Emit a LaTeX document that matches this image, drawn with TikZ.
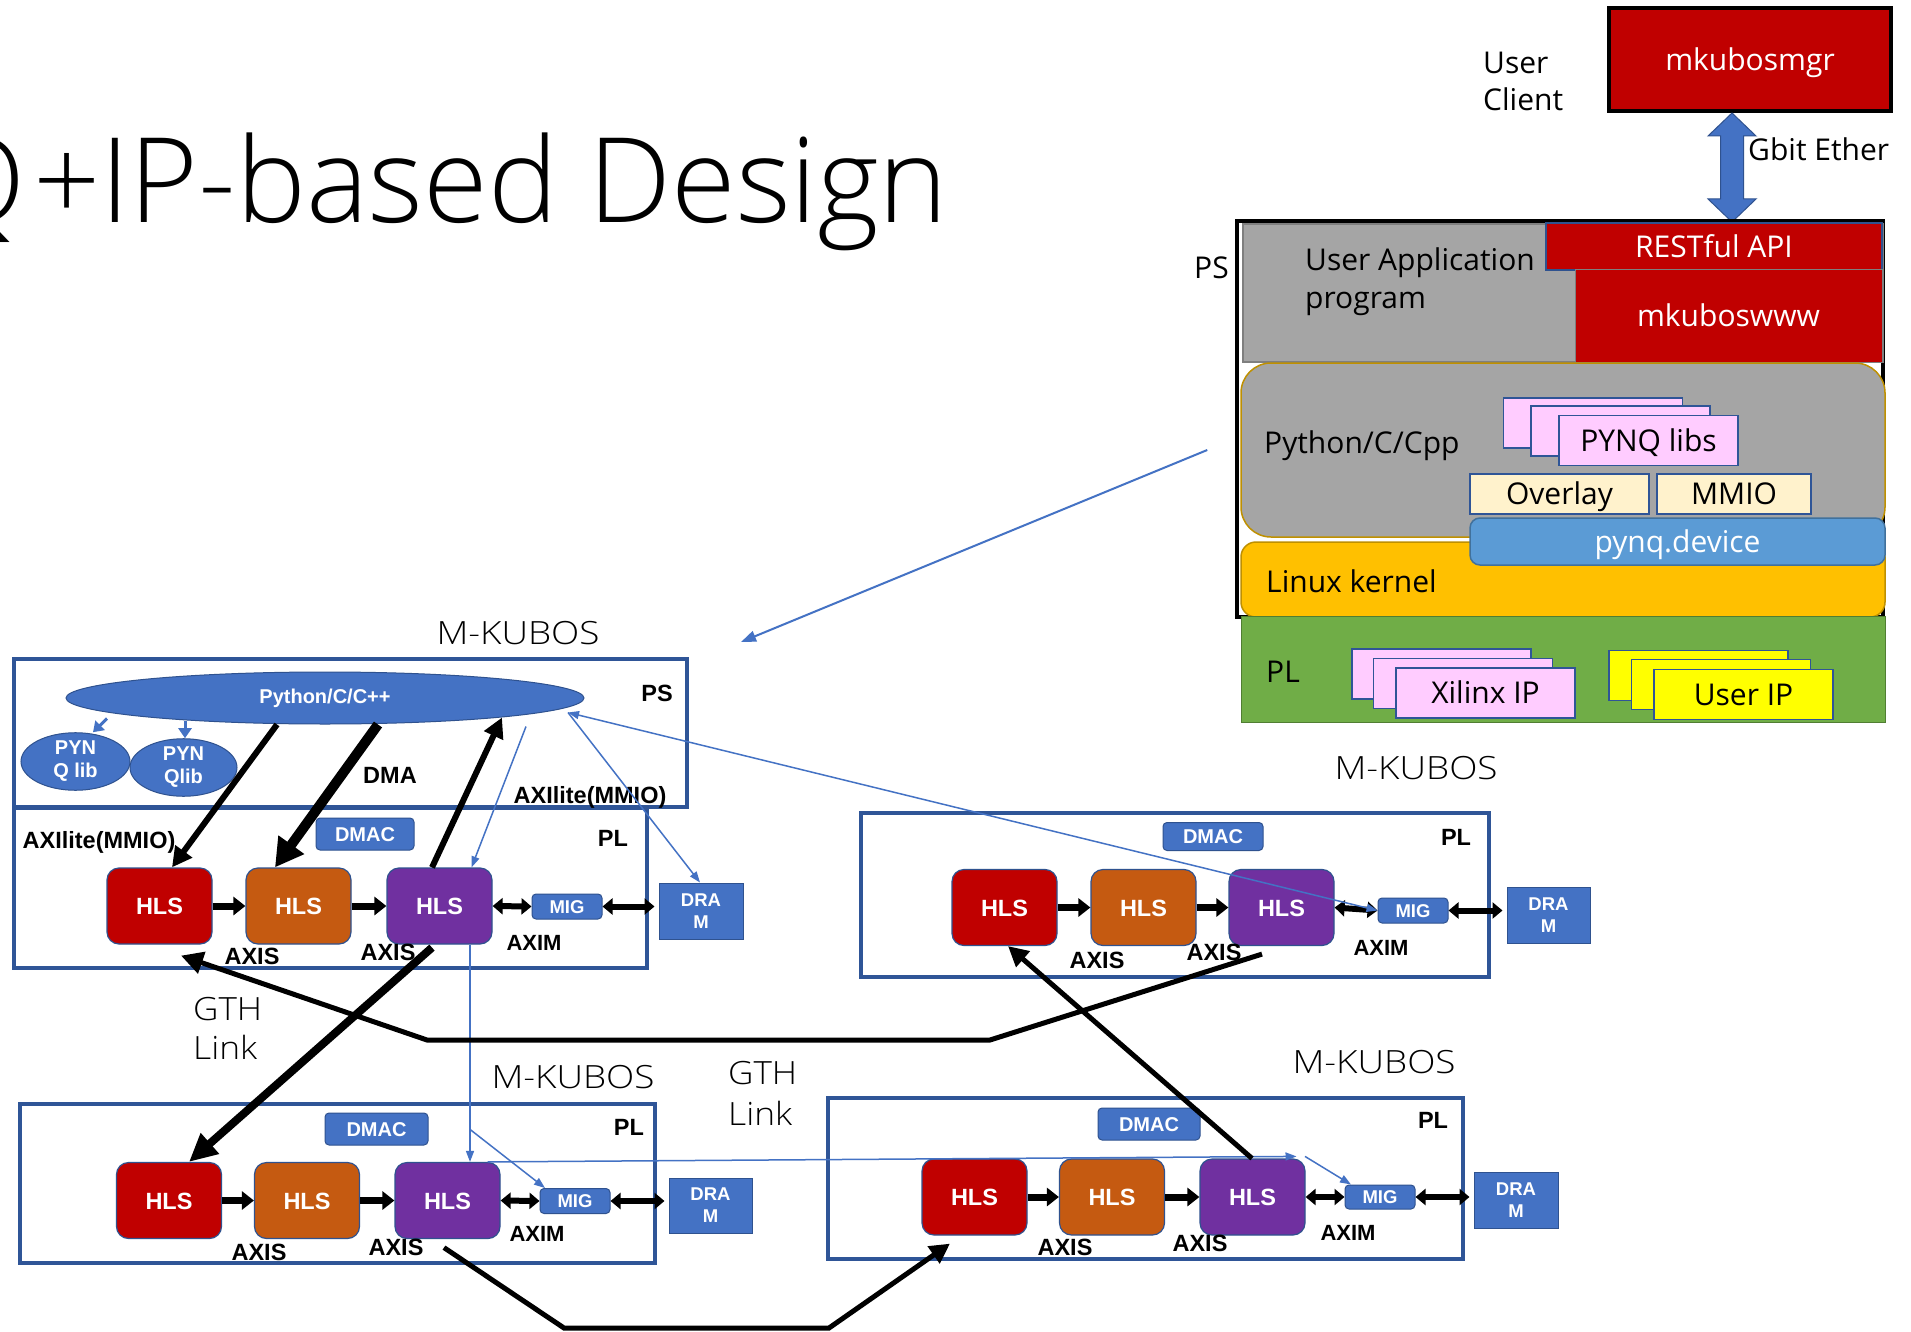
\documentclass[tikz,border=0pt]{standalone}
\usepackage{fontspec}
\usepackage{graphicx}
\setmainfont{Open Sans}
\newfontfamily\lsans{Liberation Sans}
\IfFontExistsTF{Open Sans Light}{\newfontfamily\lightfam{Open Sans Light}}{\newfontfamily\lightfam{Noto Sans CJK JP}}
\usetikzlibrary{arrows.meta,shapes.geometric,calc}

\definecolor{kblue}{HTML}{2F5597}
\definecolor{accblue}{HTML}{4472C4}
\definecolor{hlsb}{HTML}{2F528F}
\definecolor{hred}{HTML}{C00000}
\definecolor{horange}{HTML}{C55A11}
\definecolor{hpurple}{HTML}{7030A0}
\definecolor{psgray}{HTML}{A5A5A5}
\definecolor{psgrayb}{HTML}{7F7F7F}
\definecolor{gold}{HTML}{BF9000}
\definecolor{kernel}{HTML}{FFC000}
\definecolor{pdev}{HTML}{5B9BD5}
\definecolor{pdevb}{HTML}{41719C}
\definecolor{plgreen}{HTML}{70AD47}
\definecolor{plgreenb}{HTML}{507E32}
\definecolor{ipink}{HTML}{FFCCFF}
\definecolor{cream}{HTML}{FFF2CC}
\definecolor{uyellow}{HTML}{FFFF00}

\newcommand\fBold{\lsans\bfseries\fontsize{23.5}{26}\selectfont}
\newcommand\fSmall{\lsans\bfseries\fontsize{20}{23}\selectfont}
\newcommand\fTiny{\lsans\bfseries\fontsize{18.5}{22}\selectfont}
\newcommand\fBody{\fontsize{30}{37}\selectfont}
\newcommand\fJp{\lightfam\fontsize{32}{38}\selectfont}
\newcommand\fTitle{\lightfam\fontsize{118}{130}\selectfont}
\newcommand\fitw[2]{\resizebox{#1}{\height}{#2}}

\tikzset{
  lbl/.style={font=\fBold, inner sep=0pt, anchor=base},
  body/.style={font=\fBody, inner sep=0pt, anchor=base west},
  jp/.style={font=\fJp, inner sep=0pt, anchor=base},
  kframe/.style={draw=kblue, line width=4pt, inner sep=0pt},
  hls/.style={rounded corners=12pt, draw=hlsb, line width=1.2pt, minimum width=105pt,
    minimum height=76pt, inner sep=0pt, text=white, font=\fBold, text height=17pt, text depth=0pt},
  sbox/.style={fill=accblue, draw=hlsb, line width=1pt, text=white, font=\fSmall, inner sep=0pt,
    rounded corners=4pt, text height=14pt, text depth=0pt},
  migbox/.style={sbox, font=\fTiny, minimum width=70pt, minimum height=25pt, text height=13pt},
  dramnode/.style={fill=accblue, draw=hlsb, line width=1pt, text=white, font=\fTiny, inner sep=0pt,
    align=center, minimum width=83pt, minimum height=56pt},
  lay/.style={inner sep=0pt, font=\fBody, text height=21.5pt, text depth=0pt},
  stk/.style={lay, draw=kblue, line width=1.5pt, minimum width=179pt, minimum height=50pt},
  axarr/.style={line width=7pt, -{Triangle[length=12pt,width=18pt]}},
  dblarr/.style={line width=6pt, {Triangle[length=10pt,width=16pt]}-{Triangle[length=10pt,width=16pt]}},
  thinb/.style={draw=accblue, line width=1.5pt},
  thinarr/.style={thinb, -{Triangle[length=11pt,width=8pt]}},
}

\begin{document}
\begin{tikzpicture}[x=1pt,y=-1pt]
\useasboundingbox (0,0) rectangle (1911,1332);
\fill[white] (0,0) rectangle (1911,1332);

% ---------- title ----------
\node[font=\fTitle, anchor=base east, inner sep=0pt] (titleq) at (26,223) {Q};
\node[font=\fTitle, anchor=base west, inner sep=0pt] (title) at (33,223) {\fitw{915pt}{+IP-based Design}};

% ---------- top right: PYNQ stack ----------
\node[fill=hred, draw=black, line width=4pt, minimum width=282pt, minimum height=103pt,
  lay, text=white] (mgr) at (1750,59.5) {mkubosmgr};
\node[body] (uc1) at (1483,73.5) {User};
\node[body] (uc2) at (1483,110.5) {Client};
\fill[accblue, draw=hlsb, line width=1pt]
  (1732,113) -- (1756,136) -- (1743.5,136) -- (1743.5,199) -- (1756,199) -- (1732,222)
  -- (1708,199) -- (1720.5,199) -- (1720.5,136) -- (1708,136) -- cycle;
\node[body] (gbit) at (1748,160.5) {Gbit Ether};

\node[draw=black, line width=3.5pt, minimum width=646pt, minimum height=396pt, inner sep=0pt] (psfr) at (1560,419) {};
\node[body] (pslab) at (1194,278.5) {PS};
\node[fill=psgray, draw=psgrayb, line width=1.5pt, minimum width=640pt, minimum height=138pt, inner sep=0pt] (uapp) at (1563,293) {};
\node[fill=hred, draw=hlsb, line width=1.5pt, minimum width=336pt, minimum height=47pt, lay, text=white] (rest) at (1714,246.5) {RESTful API};
\node[fill=hred, draw=psgrayb, line width=1pt, minimum width=307pt, minimum height=92pt, lay, text=white] (www) at (1728.5,316) {mkuboswww};
\node[body] (uat1) at (1305,270.5) {User Application};
\node[body] (uat2) at (1305,308.5) {program};

\node[fill=psgray, draw=gold, line width=1.5pt, rounded corners=30pt, minimum width=644pt, minimum height=174pt, inner sep=0pt] (pyr) at (1563,450) {};
\node[body] (pytxt) at (1264,453.5) {Python/C/Cpp};
\node[stk, fill=ipink] (pq1s) at (1593,423) {};
\node[stk, fill=ipink] (pq2s) at (1620.5,431) {};
\node[stk, fill=ipink] (pq3s) at (1648.5,440.5) {PYNQ libs};
\node[lay, fill=cream, draw=kblue, line width=1.5pt, minimum width=179pt, minimum height=40pt] (ovl) at (1559.5,494) {Overlay};
\node[lay, fill=cream, draw=kblue, line width=1.5pt, minimum width=154pt, minimum height=40pt] (mmio) at (1734,494) {MMIO};

\node[fill=kernel, draw=gold, line width=1.5pt, rounded corners=15pt, minimum width=644pt, minimum height=75pt, inner sep=0pt] (linux) at (1563,579.5) {};
\node[body] (lktxt) at (1266,592.5) {Linux kernel};
\node[lay, fill=pdev, draw=pdevb, line width=1.5pt, rounded corners=10pt, minimum width=415pt, minimum height=47pt, text=white] (pdevn) at (1677.5,541.5) {pynq.device};

\node[fill=plgreen, draw=plgreenb, line width=1pt, minimum width=644pt, minimum height=106pt, inner sep=0pt] (plg) at (1563,669) {};
\node[body] (pltxt) at (1266,682.5) {PL};
\node[stk, fill=ipink] (xi1) at (1441.5,674) {};
\node[stk, fill=ipink] (xi2) at (1463,683.5) {};
\node[stk, fill=ipink] (xi3) at (1485.5,693) {Xilinx IP};
\node[stk, fill=uyellow] (ui1) at (1698.5,675.5) {};
\node[stk, fill=uyellow] (ui2) at (1721,684.5) {};
\node[stk, fill=uyellow] (ui3) at (1743.5,694.5) {User IP};

\coordinate (lttgt) at (741,642);
\draw[accblue, line width=2pt, -{Triangle[length=15pt,width=11pt]}] ([xshift=-33pt]pyr.west) -- (lttgt);

% ---------- block LT ----------
\node[jp] (mk1) at (518,644.5) {\fitw{163pt}{M-KUBOS}};
\node[kframe, minimum width=673pt, minimum height=148pt] (ltps) at (350.5,733) {};
\node[kframe, minimum width=633pt, minimum height=160pt] (ltpl) at (330.5,888) {};
\node[lbl] (pslt) at (657,701.5) {PS};
\node[ellipse, fill=accblue, draw=hlsb, line width=1pt, minimum width=518pt, minimum height=52pt,
  inner sep=0pt, text=white, font=\fSmall] (ell) at (325,698) {Python/C/C++};
\node[ellipse, fill=accblue, draw=hlsb, line width=1pt, minimum width=109pt, minimum height=51pt,
  inner sep=0pt, text=white, font=\fSmall, align=center] (pyq1) at (75.5,761.5) {PYN\\Q lib};
\node[ellipse, fill=accblue, draw=hlsb, line width=1pt, minimum width=107pt, minimum height=51pt,
  inner sep=0pt, text=white, font=\fSmall, align=center] (pyq2) at (183.5,767.5) {PYN\\Qlib};
\node[lbl] (dma) at (390,783.5) {DMA};
\node[lbl] (axl1) at (590,803.5) {AXIlite(MMIO)};
\node[lbl] (axl2) at (99,848.5) {AXIlite(MMIO)};
\node[sbox, minimum width=98pt, minimum height=32pt] (dmac1) at (365,834) {DMAC};
\node[lbl] (pllt) at (613,846.5) {PL};
\node[hls, fill=hred] (hr1) at (159.5,906) {HLS};
\node[hls, fill=horange] (ho1) at (298.5,906) {HLS};
\node[hls, fill=hpurple] (hp1) at (439.5,906) {HLS};
\node[migbox] (mig1) at (567,906.5) {MIG};
\node[dramnode, minimum width=84pt] (dram1) at (701,911) {DRA\\M};
\node[lbl] (ax1a) at (252,964.5) {AXIS};
\node[lbl] (ax1b) at (388,960.5) {AXIS};
\node[lbl, font=\lsans\bfseries\fontsize{22}{24}\selectfont] (axm1) at (534,950.5) {AXIM};

% ---------- block RT ----------
\node[jp] (mk2) at (1416,779.5) {\fitw{163pt}{M-KUBOS}};
\node[kframe, minimum width=628pt, minimum height=164pt] (rtpl) at (1175,895) {};
\node[sbox, minimum width=100pt, minimum height=28pt] (dmac2) at (1213,836.5) {DMAC};
\node[lbl] (plrt) at (1456,845.5) {PL};
\node[hls, fill=hred] (hr2) at (1004.5,907.5) {HLS};
\node[hls, fill=horange] (ho2) at (1143.5,907.5) {HLS};
\node[hls, fill=hpurple] (hp2) at (1281.5,907.5) {HLS};
\node[migbox] (mig2) at (1413,910.5) {MIG};
\node[dramnode] (dram2) at (1548.5,915) {DRA\\M};
\node[lbl] (ax2a) at (1097,968.5) {AXIS};
\node[lbl] (ax2b) at (1214,960.5) {AXIS};
\node[lbl, font=\lsans\bfseries\fontsize{22}{24}\selectfont] (axm2) at (1381,955.5) {AXIM};

% ---------- block BL ----------
\node[jp] (mk3) at (573,1088.5) {\fitw{163pt}{M-KUBOS}};
\node[kframe, minimum width=635pt, minimum height=159pt] (blpl) at (337.5,1183.5) {};
\node[sbox, minimum width=103pt, minimum height=32pt] (dmac3) at (376.5,1129) {DMAC};
\node[lbl] (plbl) at (629,1135.5) {PL};
\node[hls, fill=hred] (hr3) at (169,1200.5) {HLS};
\node[hls, fill=horange] (ho3) at (307,1200.5) {HLS};
\node[hls, fill=hpurple] (hp3) at (447.5,1200.5) {HLS};
\node[migbox] (mig3) at (575,1201) {MIG};
\node[dramnode, minimum height=55pt] (dram3) at (710.5,1205.5) {DRA\\M};
\node[lbl] (ax3a) at (259,1260.5) {AXIS};
\node[lbl] (ax3b) at (396,1255.5) {AXIS};
\node[lbl, font=\lsans\bfseries\fontsize{22}{24}\selectfont] (axm3) at (537,1241.5) {AXIM};

% ---------- block BR ----------
\node[jp] (mk4) at (1374,1073.5) {\fitw{163pt}{M-KUBOS}};
\node[kframe, minimum width=635pt, minimum height=161pt] (brpl) at (1145.5,1178.5) {};
\node[sbox, minimum width=102pt, minimum height=32pt] (dmac4) at (1149,1124) {DMAC};
\node[lbl] (plbr) at (1433,1128.5) {PL};
\node[hls, fill=hred] (hr4) at (974.5,1197) {HLS};
\node[hls, fill=horange] (ho4) at (1112,1197) {HLS};
\node[hls, fill=hpurple] (hp4) at (1252.5,1197) {HLS};
\node[migbox, minimum height=24pt] (mig4) at (1380,1197) {MIG};
\node[dramnode, minimum width=84pt] (dram4) at (1516,1200) {DRA\\M};
\node[lbl] (ax4a) at (1065,1255.5) {AXIS};
\node[lbl] (ax4b) at (1200,1251.5) {AXIS};
\node[lbl, font=\lsans\bfseries\fontsize{22}{24}\selectfont] (axm4) at (1348,1240.5) {AXIM};

% ---------- GTH labels ----------
\node[jp, anchor=base west] (gth1) at (193,1020.5) {\fitw{69pt}{GTH}};
\node[jp, anchor=base west] (lnk1) at (193,1059.5) {\fitw{64pt}{Link}};
\node[jp, anchor=base west] (gth2) at (728,1084.5) {\fitw{69pt}{GTH}};
\node[jp, anchor=base west] (lnk2) at (728,1125.5) {\fitw{64pt}{Link}};

% ---------- row arrows ----------
\foreach \i in {1,2,3,4}{
  \draw[axarr] (hr\i.east) -- (ho\i.west);
  \draw[axarr] (ho\i.east) -- (hp\i.west);
  \draw[dblarr] (hp\i.east) -- (mig\i.west);
  \draw[dblarr, shorten >=4pt] (mig\i.east) -- (mig\i.east -| dram\i.west);
}

% ---------- PS <-> PL arrows (LT) ----------
\draw[accblue, line width=3pt, -{Triangle[length=10pt,width=13pt]}] ([xshift=-218pt,yshift=6pt]ell.south) -- ([xshift=17.5pt]pyq1.north);
\draw[accblue, line width=3pt, -{Triangle[length=10pt,width=13pt]}] ([xshift=-140pt,yshift=4pt]ell.south) -- ([xshift=1.5pt]pyq2.north);
\draw[line width=6pt, -{Triangle[length=20pt,width=20pt]}] ([xshift=-48pt]ell.south) -- ([xshift=12.5pt]hr1.north);
\draw[line width=10pt, -{Triangle[length=28pt,width=30pt]}] ([xshift=53pt]ell.south) -- ([xshift=-23.5pt]ho1.north);
\draw[line width=6pt, -{Triangle[length=20pt,width=20pt]}] ([xshift=-7.5pt]hp1.north) -- ([xshift=177pt,yshift=7pt]ell.south);

% ---------- thin blue links ----------
\draw[thinarr] ([xshift=201pt,yshift=-2pt]ell.south) -- ([xshift=32pt]hp1.north);
\draw[thinarr] ([xshift=243pt,yshift=12pt]ell.south) -- ([xshift=-1pt]dram1.north);
\draw[thinb, {Triangle[length=11pt,width=8pt]}-{Triangle[length=11pt,width=8pt]}] ([xshift=243pt,yshift=12pt]ell.south) -- (mig2.west);
\draw[thinarr] ([xshift=30.5pt]hp1.south) -- ([xshift=22.5pt]hp3.north);
\draw[thinarr] ([xshift=22.5pt,yshift=32.5pt]hp3.north) -- ([xshift=-30pt]mig3.north);
\draw[thinarr] ([xshift=40pt]hp3.north) -- ([xshift=44pt,yshift=2pt]hp4.north);
\draw[thinarr] ([xshift=52.5pt,yshift=2pt]hp4.north) -- ([xshift=-29pt]mig4.north);

% ---------- GTH links ----------
\coordinate (g1a) at (990,1040);
\coordinate (g1b) at (427,1040);
\draw[line width=5pt, -{Triangle[length=22pt,width=22pt]}] ([xshift=-19.5pt,yshift=-8pt]hp2.south) -- (g1a) -- (g1b) -- ([xshift=21.5pt,yshift=-11pt]hr1.south);
\draw[line width=8pt, -{Triangle[length=28pt,width=26pt]}] ([xshift=-7.5pt,yshift=-3pt]hp1.south) -- ([xshift=20pt]hr3.north);
\draw[line width=5pt, -{Triangle[length=20pt,width=20pt]}] ([xshift=-0.5pt]hp4.north) -- ([xshift=3.5pt]hr2.south);
\coordinate (g4a) at (564,1328);
\coordinate (g4b) at (829,1328);
\draw[line width=5pt, -{Triangle[length=20pt,width=20pt]}] ([xshift=-3.5pt,yshift=-8.5pt]hp3.south) -- (g4a) -- (g4b) -- ([xshift=-24.5pt,yshift=-8pt]hr4.south);
\end{tikzpicture}
\end{document}
